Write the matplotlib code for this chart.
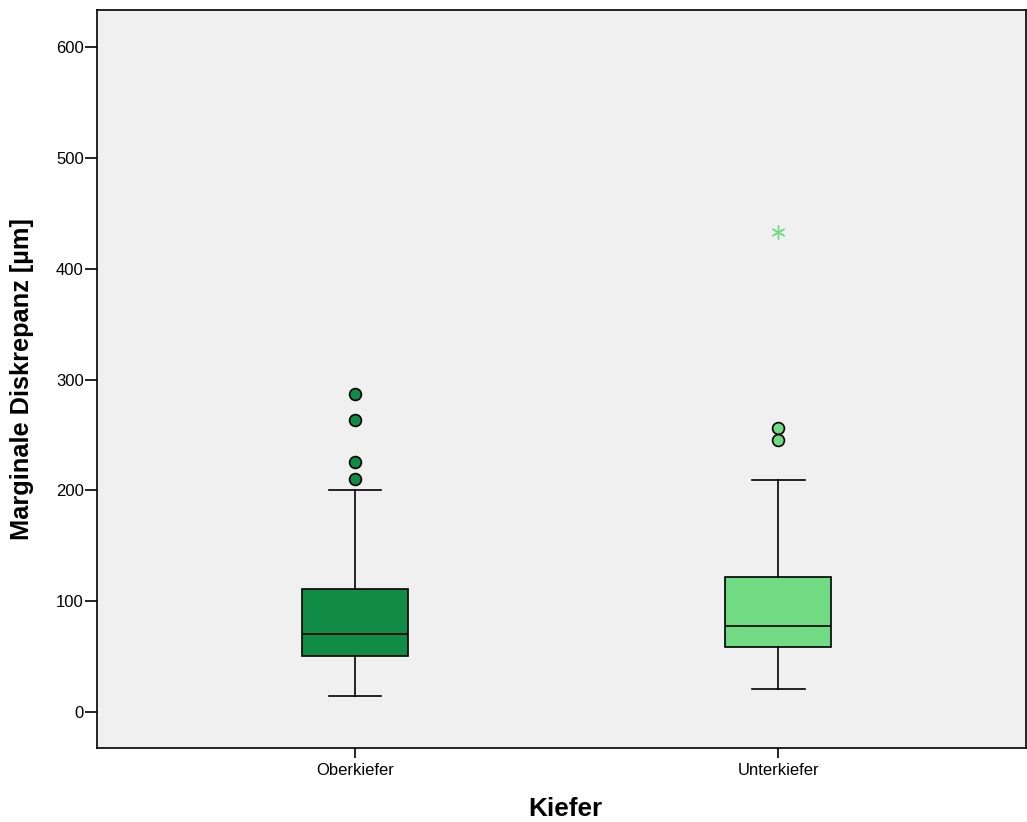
import matplotlib
matplotlib.use("Agg")
import matplotlib.pyplot as plt
from matplotlib import font_manager

categories = ["Oberkiefer", "Unterkiefer"]
whislo = [14.4, 21.0]
q1 = [50.8, 58.6]
med = [70.4, 77.3]
q3 = [111.0, 121.5]
whishi = [200.3, 209.3]
outliers = [[287.2, 263.2, 225.3, 210.2], [256.0, 245.4]]
extremes = [[], [433.4]]
colors = ["#118c46", "#70db83"]

names = {f.name for f in font_manager.fontManager.ttflist}
base_font = "Liberation Sans" if "Liberation Sans" in names else "DejaVu Sans"
label_font = "Liberation Sans Narrow" if "Liberation Sans Narrow" in names else base_font
plt.rcParams['font.family'] = [base_font, 'DejaVu Sans']

fig = plt.figure(figsize=(10.27, 8.22), dpi=100)
W, H = 1027, 822
ax = fig.add_axes([97 / W, 1 - 748 / H, (1026 - 97) / W, (748 - 10) / H])
ax.set_facecolor("#f0f0f0")

lw = 1.2
positions = list(range(len(categories)))
stats = []
for i, c in enumerate(categories):
    stats.append(dict(label=c, whislo=whislo[i], q1=q1[i], med=med[i],
                      q3=q3[i], whishi=whishi[i], fliers=[]))

bp = ax.bxp(stats, positions=positions, widths=0.25, patch_artist=True,
            showfliers=False,
            boxprops=dict(edgecolor="black", linewidth=lw),
            medianprops=dict(color="black", linewidth=lw),
            whiskerprops=dict(color="black", linewidth=lw),
            capprops=dict(color="black", linewidth=lw),
            capwidths=0.125)
for patch, col in zip(bp['boxes'], colors):
    patch.set_facecolor(col)

for i, pts in enumerate(outliers):
    ax.plot([positions[i]] * len(pts), pts, linestyle="none", marker="o",
            markersize=8.5, markerfacecolor=colors[i], markeredgecolor="black",
            markeredgewidth=lw, zorder=4)
for i, pts in enumerate(extremes):
    if pts:
        ax.plot([positions[i]] * len(pts), pts, linestyle="none",
                marker=(6, 2, 0), markersize=10, color=colors[i],
                markeredgewidth=1.0, zorder=4)

ax.set_xlim(-0.61, 1.586)
ax.set_ylim(-32.5, 633.5)
ax.set_yticks([0, 100, 200, 300, 400, 500, 600])
ax.set_xticks(positions)
ax.set_xticklabels(categories)
ax.tick_params(axis='y', labelsize=12, direction='out', length=8.5, width=lw, pad=1)
ax.tick_params(axis='x', labelsize=12, direction='out', length=7, width=lw, pad=4)
for s in ax.spines.values():
    s.set_linewidth(lw)
    s.set_color("black")

fig.text(22 / W, 1 - 379 / H, "Marginale Diskrepanz [µm]", rotation=90,
         ha="center", va="center", fontsize=18.3, fontweight="bold",
         family=[label_font, 'DejaVu Sans'])
fig.text(565 / W, 1 - 809 / H, "Kiefer", ha="center", va="center",
         fontsize=18.8, fontweight="bold", family=[label_font, 'DejaVu Sans'])

fig.savefig("out.png", dpi=100)
